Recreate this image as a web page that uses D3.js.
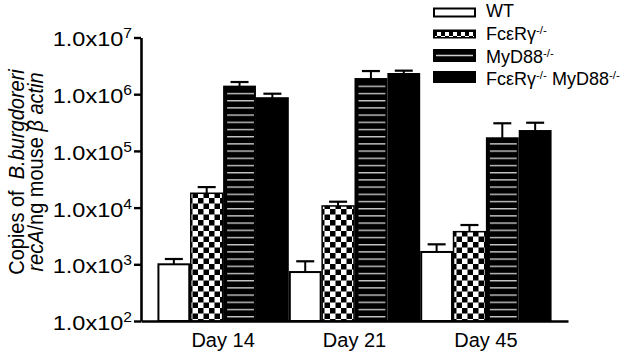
<!DOCTYPE html>
<html>
<head>
<meta charset="utf-8">
<script src="https://cdn.jsdelivr.net/npm/d3@7"></script>
<style>
  html, body { margin: 0; padding: 0; background: #fff; }
  svg { display: block; }
</style>
</head>
<body>
<div id="chart"></div>
<script>
// Borrelia load per genotype, log scale, mean + SEM (upper bar only)

const DAYS   = ["Day 14", "Day 21", "Day 45"];
const SERIES = ["wt", "fcer", "myd", "dko"];

const WT_MEAN   = [1000, 730, 1650];
const WT_SEM    = [240, 400, 600];
const FCER_MEAN = [17900, 10700, 3760];
const FCER_SEM  = [5100, 2000, 1170];
const MYD_MEAN  = [1360000, 1850000, 167000];
const MYD_SEM   = [280000, 710000, 140000];
const DKO_MEAN  = [850000, 2270000, 224000];
const DKO_SEM   = [170000, 330000, 90000];

const TICK_EXPONENTS = [2, 3, 4, 5, 6, 7];
const TICK_MANTISSA  = "1.0x10";

// legend text parts: [text, isSuperscript]
const LEGEND_LABELS = [
  [["WT", false]],
  [["FcεRγ", false], ["-/-", true]],
  [["MyD88", false], ["-/-", true]],
  [["FcεRγ", false], ["-/-", true], [" MyD88", false], ["-/-", true]],
];

const MEANS = { wt: WT_MEAN, fcer: FCER_MEAN, myd: MYD_MEAN, dko: DKO_MEAN };
const SEMS  = { wt: WT_SEM,  fcer: FCER_SEM,  myd: MYD_SEM,  dko: DKO_SEM };

const FONT = "'Liberation Sans', Arial, Helvetica, sans-serif";
const W = 635, H = 354;

const svg = d3.select("#chart").append("svg")
  .attr("width", W).attr("height", H)
  .attr("viewBox", `0 0 ${W} ${H}`)
  .style("font-family", FONT);

svg.append("rect").attr("width", W).attr("height", H).attr("fill", "#fff");

// Patterns
const defs = svg.append("defs");

function checker(id, s) {
  const p = defs.append("pattern")
    .attr("id", id).attr("patternUnits", "userSpaceOnUse")
    .attr("width", s * 2).attr("height", s * 2);
  p.append("rect").attr("width", s * 2).attr("height", s * 2).attr("fill", "#fff");
  p.append("rect").attr("x", 0).attr("y", 0).attr("width", s).attr("height", s).attr("fill", "#000");
  p.append("rect").attr("x", s).attr("y", s).attr("width", s).attr("height", s).attr("fill", "#000");
}
checker("checker", 5.5);
checker("checker-small", 4);

const plotLeft = 141, plotRight = 568, plotTop = 37.5, plotBottom = 321;

const stripes = defs.append("pattern")
  .attr("id", "stripes").attr("patternUnits", "userSpaceOnUse")
  .attr("width", 10).attr("height", 7.2)
  .attr("y", plotBottom - 5);
stripes.append("rect").attr("width", 10).attr("height", 7.2).attr("fill", "#000");
stripes.append("rect").attr("y", 0).attr("width", 10).attr("height", 1.4).attr("fill", "#c8c8c8");

// Scales
const x0 = d3.scaleBand()
  .domain(DAYS)
  .range([plotLeft, plotRight])
  .paddingInner(0)
  .paddingOuter(0.125);

const x1 = d3.scaleBand()
  .domain(SERIES)
  .range([0, x0.bandwidth()])
  .padding(0);

const y = d3.scaleLog()
  .domain([1e2, 1e7])
  .range([plotBottom, plotTop]);

// Bars
const bars = svg.append("g");
const bw = x1.bandwidth();

SERIES.forEach(key => {
  DAYS.forEach((day, i) => {
    const v  = MEANS[key][i];
    const bx = x0(day) + x1(key);
    const by = y(v);
    const bh = plotBottom - by;

    if (key === "wt") {
      bars.append("rect")
        .attr("x", bx + 1).attr("y", by).attr("width", bw - 2).attr("height", bh)
        .attr("fill", "#fff").attr("stroke", "#000").attr("stroke-width", 2);
    } else if (key === "fcer") {
      bars.append("rect")
        .attr("x", bx + 0.5).attr("y", by).attr("width", bw - 1).attr("height", bh)
        .attr("fill", "url(#checker)").attr("stroke", "#000").attr("stroke-width", 1.5);
    } else if (key === "myd") {
      bars.append("rect")
        .attr("x", bx).attr("y", by - 1).attr("width", bw).attr("height", bh + 1)
        .attr("fill", "#000");
      bars.append("rect")
        .attr("x", bx + 4).attr("y", by + 4).attr("width", bw - 6).attr("height", bh - 4)
        .attr("fill", "url(#stripes)");
    } else {
      bars.append("rect")
        .attr("x", bx).attr("y", by - 1).attr("width", bw).attr("height", bh + 1)
        .attr("fill", "#000");
    }

    // error bar (upper only)
    const cx  = bx + bw / 2;
    const top = y(v + SEMS[key][i]);
    bars.append("line")
      .attr("x1", cx).attr("x2", cx).attr("y1", by).attr("y2", top)
      .attr("stroke", "#000").attr("stroke-width", 2);
    bars.append("line")
      .attr("x1", cx - 9).attr("x2", cx + 9).attr("y1", top).attr("y2", top)
      .attr("stroke", "#000").attr("stroke-width", 2.2);
  });
});

// Y axis
const yAxisG = svg.append("g")
  .attr("transform", `translate(${plotLeft},0)`)
  .call(d3.axisLeft(y)
    .tickValues(TICK_EXPONENTS.map(e => Math.pow(10, e)))
    .tickSize(7).tickSizeOuter(0).tickPadding(1)
    .tickFormat(() => ""));
yAxisG.select(".domain").attr("stroke", "#000").attr("stroke-width", 2.6);
yAxisG.selectAll(".tick line").attr("stroke", "#000").attr("stroke-width", 2.4);
yAxisG.selectAll(".tick text").each(function (d, i) {
  const t = d3.select(this)
    .attr("fill", "#000").attr("font-size", "21px").attr("font-family", FONT)
    .attr("dy", "0.4em").attr("text-anchor", "end")
    .attr("transform", "scale(1.12,1)");
  t.append("tspan").text(TICK_MANTISSA);
  t.append("tspan").attr("font-size", "14px").attr("dy", "-8").text(TICK_EXPONENTS[i]);
});

// X axis
const xAxisG = svg.append("g")
  .attr("transform", `translate(0,${plotBottom})`)
  .call(d3.axisBottom(x0).tickSize(0).tickSizeOuter(0).tickPadding(12));
xAxisG.select(".domain").attr("stroke", "#000").attr("stroke-width", 2.6);
xAxisG.selectAll(".tick text")
  .attr("fill", "#000").attr("font-size", "20px").attr("font-family", FONT)
  .attr("dy", "0.71em");

// Y axis title (two rotated lines)
const titleY = 172;
const t1 = svg.append("text")
  .attr("transform", `translate(24,${titleY}) scale(1.1,1) rotate(-90)`)
  .attr("text-anchor", "middle").attr("font-size", "20px").attr("fill", "#000")
  .attr("xml:space", "preserve");
t1.append("tspan").text("Copies of  ");
t1.append("tspan").attr("font-style", "italic").text("B.burgdoreri");

const t2 = svg.append("text")
  .attr("transform", `translate(43,${titleY}) scale(1.1,1) rotate(-90)`)
  .attr("text-anchor", "middle").attr("font-size", "20px").attr("fill", "#000");
t2.append("tspan").attr("font-style", "italic").text("recA");
t2.append("tspan").text("/ng mouse ");
t2.append("tspan").attr("font-style", "italic").text("β actin");

// Legend
const legend = svg.append("g").attr("transform", "translate(433,0)");
const boxW = 43;
SERIES.forEach((key, i) => {
  const cy = 12.5 + 21.5 * i;
  const g = legend.append("g");
  if (key === "wt") {
    g.append("rect").attr("x", 1).attr("y", cy - 4).attr("width", boxW - 2).attr("height", 8)
      .attr("fill", "#fff").attr("stroke", "#000").attr("stroke-width", 2);
  } else if (key === "fcer") {
    g.append("rect").attr("x", 0).attr("y", cy - 4.5).attr("width", boxW).attr("height", 9)
      .attr("fill", "#000");
    g.append("rect").attr("x", 2).attr("y", cy - 2).attr("width", boxW - 4).attr("height", 5)
      .attr("fill", "url(#checker-small)");
  } else if (key === "myd") {
    g.append("rect").attr("x", 0).attr("y", cy - 6.5).attr("width", boxW).attr("height", 13)
      .attr("fill", "#000");
    g.append("line").attr("x1", 3).attr("x2", boxW - 3).attr("y1", cy).attr("y2", cy)
      .attr("stroke", "#d0d0d0").attr("stroke-width", 1.4);
  } else {
    g.append("rect").attr("x", 0).attr("y", cy - 6).attr("width", boxW).attr("height", 12)
      .attr("fill", "#000");
  }
  const txt = g.append("text")
    .attr("x", 53).attr("y", 17.3 + 22.6 * i)
    .attr("font-size", "18px").attr("fill", "#000");
  LEGEND_LABELS[i].forEach(([s, sup]) => {
    txt.append("tspan")
      .attr("font-size", sup ? "11.5px" : "18px")
      .attr("baseline-shift", sup ? "6" : null)
      .text(s);
  });
});
</script>
</body>
</html>
